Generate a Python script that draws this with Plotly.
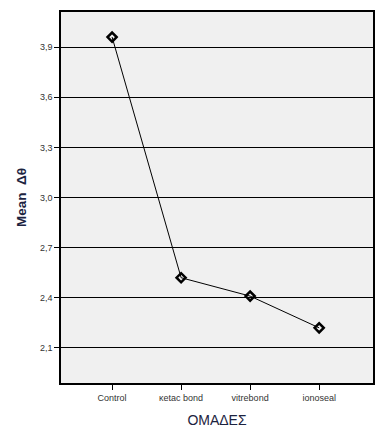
import plotly.graph_objects as go

categories = ["Control", "κetac bond", "vitrebond", "ionoseal"]
means = [3.96, 2.52, 2.41, 2.22]
y_ticks = [2.1, 2.4, 2.7, 3.0, 3.3, 3.6, 3.9]
y_tick_labels = ["2,1", "2,4", "2,7", "3,0", "3,3", "3,6", "3,9"]

fig = go.Figure()
fig.add_trace(go.Scatter(
    x=list(range(len(categories))), y=means, mode="lines+markers",
    line=dict(color="black", width=1),
    marker=dict(symbol="diamond-open", size=7, color="black", line=dict(width=2.5, color="black")),
    showlegend=False, cliponaxis=False,
))

fig.update_layout(
    width=378, height=443,
    margin=dict(l=61, r=5, t=12, b=60),
    paper_bgcolor="white", plot_bgcolor="#f0f0f0",
    font=dict(family="Arial, Liberation Sans, sans-serif", size=9, color="#333333"),
    xaxis=dict(
        range=[-0.74, 3.78], tickmode="array", automargin=False,
        tickvals=list(range(len(categories))), ticktext=categories,
        showgrid=False, zeroline=False,
        showline=True, linecolor="black", linewidth=1.5, mirror=True,
        ticks="outside", ticklen=5, tickcolor="black", tickwidth=1,
        tickfont=dict(size=9, color="#333333"),
        title=dict(text="ΟΜΑΔΕΣ", font=dict(size=14, color="#1c2340"), standoff=14),
    ),
    yaxis=dict(
        range=[1.89, 4.11], tickmode="array", automargin=False,
        tickvals=y_ticks, ticktext=y_tick_labels,
        showgrid=True, gridcolor="black", gridwidth=1, zeroline=False,
        showline=True, linecolor="black", linewidth=1.5, mirror=True,
        ticks="outside", ticklen=5, tickcolor="black", tickwidth=1,
        tickfont=dict(size=9, color="#333333"),
        title=dict(text="<b>Mean  Δθ</b>", font=dict(size=13.5, color="#1c2340"), standoff=10),
    ),
)

fig.write_html("out.html", config={"displayModeBar": False},
               post_script="document.body.style.margin='0';document.body.style.overflow='hidden';")
